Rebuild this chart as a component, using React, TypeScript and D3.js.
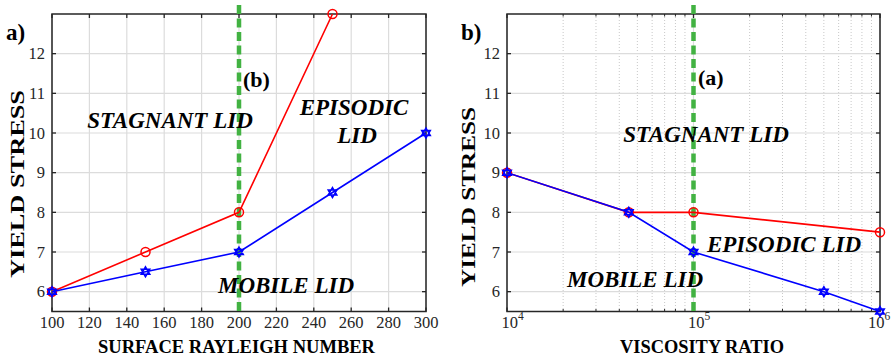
import React from "react";
import * as d3 from "d3";

const rayleigh = [100, 150, 200, 250, 300];
const redA = [6, 7, 8, 13];
const blueA = [6, 6.5, 7, 8.5, 10];
const viscRed = [1e4, 4.5e4, 1e5, 1e6];
const redB = [9, 8, 8, 7.5];
const viscBlue = [1e4, 4.5e4, 1e5, 5e5, 1e6];
const blueB = [9, 8, 7, 6, 5.5];
const yTicks = [6, 7, 8, 9, 10, 11, 12];
const xTicksA = [100, 120, 140, 160, 180, 200, 220, 240, 260, 280, 300];
const xTicksB = [1e4, 1e5, 1e6];

const FONT = "Liberation Serif";
const AX = "#262626";
const GREEN = "#42b242";
const TOP = 14, BOTTOM = 311.5;

function hexagram(x: number, y: number, r: number) {
  const tri = (off: number) =>
    d3.range(3).map((i) => {
      const a = off + (i * 2 * Math.PI) / 3;
      return [x + r * Math.sin(a), y - r * Math.cos(a)];
    });
  const p = (pts: number[][]) => "M" + pts.map((q) => q.join(",")).join("L") + "Z";
  return p(tri(0)) + p(tri(Math.PI));
}

function Panel({ kind, left, right }: { kind: "a" | "b"; left: number; right: number }) {
  const y = d3.scaleLinear().domain([5.5, 13]).range([BOTTOM, TOP]);
  const isA = kind === "a";
  const x: any = isA
    ? d3.scaleLinear().domain([100, 300]).range([left, right])
    : d3.scaleLog().domain([1e4, 1e6]).range([left, right]);
  const line = d3.line<[number, number]>().x((d) => x(d[0])).y((d) => y(d[1]));
  const redX = isA ? rayleigh.slice(0, redA.length) : viscRed;
  const redY = isA ? redA : redB;
  const blueX = isA ? rayleigh : viscBlue;
  const blueY = isA ? blueA : blueB;
  const redPts = redX.map((v, i) => [v, redY[i]] as [number, number]);
  const bluePts = blueX.map((v, i) => [v, blueY[i]] as [number, number]);
  const minor: number[] = [];
  if (!isA) {
    for (let d = 1e4; d < 1e6; d *= 10) for (let k = 2; k <= 9; k++) minor.push(d * k);
  }
  const xMajor = isA ? xTicksA : xTicksB;
  const gx = isA ? 200 : 1e5;
  const ann = isA
    ? [
        { t: "STAGNANT LID", x: 170, y: 128 },
        { t: "EPISODIC", x: 354, y: 115 },
        { t: "LID", x: 357, y: 143 },
        { t: "MOBILE LID", x: 286, y: 293 },
      ]
    : [
        { t: "STAGNANT LID", x: 706, y: 142 },
        { t: "EPISODIC LID", x: 784, y: 252 },
        { t: "MOBILE LID", x: 635, y: 287 },
      ];
  const yl = isA ? { x: 24, c: 184, len: 188 } : { x: 475, c: 197, len: 180 };
  const xl = isA ? { c: 236.5, len: 277 } : { c: 702, len: 164 };
  return (
    <g>
      {isA &&
        xMajor.map((v) => (
          <line key={"gx" + v} x1={x(v)} x2={x(v)} y1={TOP} y2={BOTTOM} stroke="#dcdcdc" strokeWidth={1.2} />
        ))}
      {!isA &&
        minor.map((v) => (
          <line key={"mx" + v} x1={x(v)} x2={x(v)} y1={TOP} y2={BOTTOM} stroke="#c8c8c8" strokeWidth={1} strokeDasharray="1,2" />
        ))}
      {!isA &&
        xMajor.map((v) => (
          <line key={"gx" + v} x1={x(v)} x2={x(v)} y1={TOP} y2={BOTTOM} stroke="#dcdcdc" strokeWidth={1.2} />
        ))}
      {yTicks.map((v) => (
        <line key={"gy" + v} x1={left} x2={right} y1={y(v)} y2={y(v)} stroke="#dcdcdc" strokeWidth={1.2} />
      ))}
      {yTicks.map((v) => (
        <g key={"ty" + v}>
          <line x1={left} x2={left + 4} y1={y(v)} y2={y(v)} stroke={AX} strokeWidth={1.3} />
          <line x1={right} x2={right - 4} y1={y(v)} y2={y(v)} stroke={AX} strokeWidth={1.3} />
          <text x={left - 7} y={y(v) + 5.5} textAnchor="end" fontFamily={FONT} fontSize={16.5} fill={AX}>
            {v}
          </text>
        </g>
      ))}
      {xMajor.map((v, i) => (
        <g key={"tx" + v}>
          <line x1={x(v)} x2={x(v)} y1={BOTTOM} y2={BOTTOM - 4} stroke={AX} strokeWidth={1.3} />
          <line x1={x(v)} x2={x(v)} y1={TOP} y2={TOP + 4} stroke={AX} strokeWidth={1.3} />
          {isA ? (
            <text x={x(v)} y={BOTTOM + 16} textAnchor="middle" fontFamily={FONT} fontSize={16.5} fill={AX}>
              {v}
            </text>
          ) : (
            <text
              x={x(v) - (i === xMajor.length - 1 ? 12 : 5.5)}
              y={BOTTOM + 16.5}
              textAnchor="start"
              fontFamily={FONT}
              fontSize={16.5}
              fill={AX}
            >
              10<tspan dy={-8} fontSize={11.5}>{Math.round(Math.log10(v))}</tspan>
            </text>
          )}
        </g>
      ))}
      {minor.map((v) => (
        <g key={"tm" + v}>
          <line x1={x(v)} x2={x(v)} y1={BOTTOM} y2={BOTTOM - 2.5} stroke={AX} strokeWidth={1} />
          <line x1={x(v)} x2={x(v)} y1={TOP} y2={TOP + 2.5} stroke={AX} strokeWidth={1} />
        </g>
      ))}
      <rect x={left} y={TOP} width={right - left} height={BOTTOM - TOP} fill="none" stroke={AX} strokeWidth={1.5} />
      <line x1={x(gx)} x2={x(gx)} y1={y(13.23)} y2={y(5.5)} stroke={GREEN} strokeWidth={4.5} strokeDasharray="9,4.5" />
      <path d={line(redPts) || ""} fill="none" stroke="#ff0000" strokeWidth={1.6} />
      {redPts.map((p, i) => (
        <circle key={"r" + i} cx={x(p[0])} cy={y(p[1])} r={4.5} fill="none" stroke="#ff0000" strokeWidth={1.5} />
      ))}
      <path d={line(bluePts) || ""} fill="none" stroke="#0000ff" strokeWidth={1.6} />
      {bluePts.map((p, i) => (
        <path key={"b" + i} d={hexagram(x(p[0]), y(p[1]), 5)} fill="none" stroke="#0000ff" strokeWidth={1.5} />
      ))}
      {ann.map((a, i) => (
        <text key={"a" + i} x={a.x} y={a.y} textAnchor="middle" fontFamily={FONT} fontSize={23} fontWeight="bold" fontStyle="italic" fill="#000">
          {a.t}
        </text>
      ))}
      <text x={isA ? 243 : 698} y={isA ? 87 : 85} fontFamily={FONT} fontSize={22} fontWeight="bold" fill="#000">
        {isA ? "(b)" : "(a)"}
      </text>
      <text x={isA ? 6 : 461} y={40} fontFamily={FONT} fontSize={23} fontWeight="bold" fill="#000">
        {isA ? "a)" : "b)"}
      </text>
      <text
        transform={`translate(${yl.x},${yl.c}) rotate(-90)`}
        textAnchor="middle"
        fontFamily={FONT}
        fontSize={19}
        fontWeight="bold"
        fill="#000"
        textLength={yl.len}
        lengthAdjust="spacingAndGlyphs"
      >
        YIELD STRESS
      </text>
      <text
        x={xl.c}
        y={353}
        textAnchor="middle"
        fontFamily={FONT}
        fontSize={18.5}
        fontWeight="bold"
        fill="#000"
        textLength={xl.len}
        lengthAdjust="spacingAndGlyphs"
      >
        {isA ? "SURFACE RAYLEIGH NUMBER" : "VISCOSITY RATIO"}
      </text>
    </g>
  );
}

export default function App() {
  return (
    <svg width={894} height={359} style={{ position: "absolute", left: 0, top: 0, background: "#fff" }}>
      <rect width={894} height={359} fill="#fff" />
      <Panel kind="a" left={52} right={426} />
      <Panel kind="b" left={507} right={880} />
    </svg>
  );
}
